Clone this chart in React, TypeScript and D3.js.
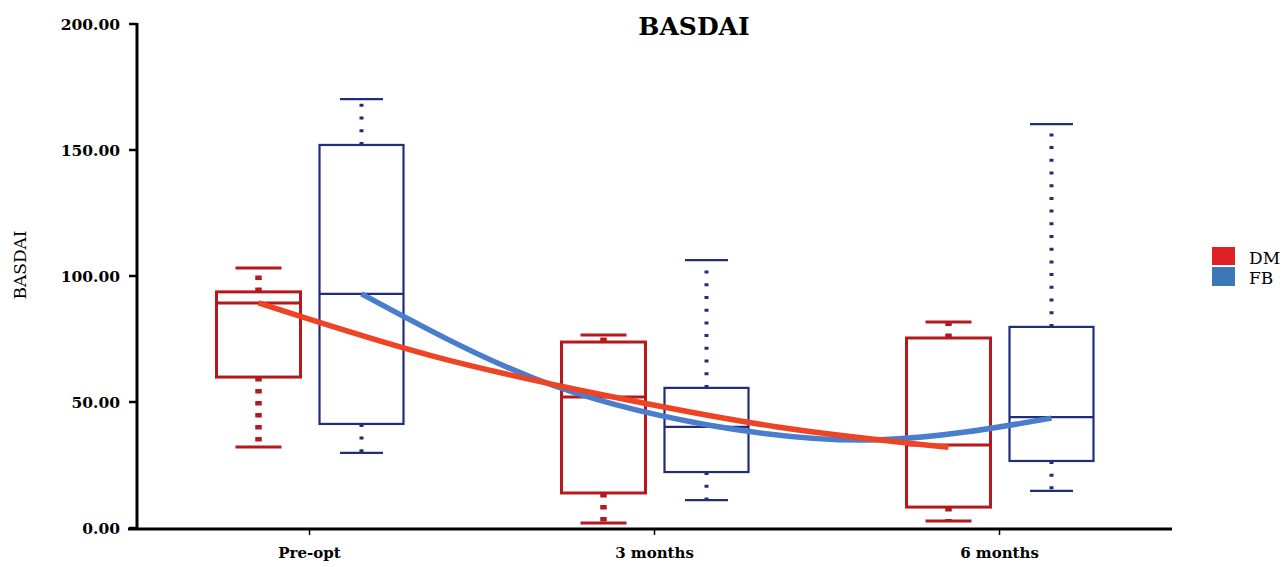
import React from "react";
import * as d3 from "d3";

const categories = ["Pre-opt", "3 months", "6 months"];
const groups = ["DM", "FB"];

const dmMin = [32.1, 2.0, 2.8];
const dmQ1 = [59.9, 13.9, 8.3];
const dmMedian = [89.3, 52.0, 32.9];
const dmQ3 = [93.7, 73.8, 75.4];
const dmMax = [103.2, 76.6, 81.7];

const fbMin = [29.8, 11.1, 14.7];
const fbQ1 = [41.3, 22.2, 26.6];
const fbMedian = [92.9, 40.1, 44.0];
const fbQ3 = [152.0, 55.6, 79.8];
const fbMax = [170.2, 106.3, 160.3];

// trend curves at positions 0, 0.5, 1, 1.5, 2 (in category steps)
const trendPos = [0, 0.5, 1, 1.5, 2];
const dmTrend = [89.3, 68.4, 52.8, 40.2, 32.0];
const fbTrend = [92.9, 59.4, 41.0, 35.0, 43.6];

const yTicks = [0, 50, 100, 150, 200];

const W = 1288;
const H = 567;

const C = {
  dmBox: "#B5191D",
  fbBox: "#1F2D7B",
  dmLine: "#EE4424",
  fbLine: "#4A7DCB",
  dmLegend: "#E02027",
  fbLegend: "#3A78B8",
};

export default function App() {
  const x = d3.scaleBand<string>().domain(categories).range([137, 1172]).padding(0);
  const sub = d3.scalePoint<string>().domain(groups).range([-51, 52]);
  const y = d3.scaleLinear().domain([0, 200]).range([528, 24]);

  const center = (c: string) => (x(c) as number) + x.bandwidth() / 2;

  const series = [
    { key: "DM", min: dmMin, q1: dmQ1, med: dmMedian, q3: dmQ3, max: dmMax, color: C.dmBox, sw: 3, capW: 46, whW: 6.5, dash: "4.5,7.5" },
    { key: "FB", min: fbMin, q1: fbQ1, med: fbMedian, q3: fbQ3, max: fbMax, color: C.fbBox, sw: 2.2, capW: 43, whW: 4, dash: "3,9.7" },
  ];
  const boxW = 84;

  const trendX = (key: string) =>
    d3.scaleLinear().domain([0, 2]).range([center(categories[0]) + (sub(key) as number), center(categories[2]) + (sub(key) as number)]);

  const line = (key: string, vals: number[]) => {
    const tx = trendX(key);
    return d3
      .line<number>()
      .x((_, i) => tx(trendPos[i]))
      .y((v) => y(v))
      .curve(d3.curveNatural)(vals) as string;
  };

  return (
    <svg width={W} height={H} style={{ position: "absolute", left: 0, top: 0, background: "#fff" }}>
      <rect x={0} y={0} width={W} height={H} fill="#fff" />
      {/* title */}
      <text x={694} y={35} textAnchor="middle" fontFamily="DejaVu Serif" fontWeight="bold" fontSize={25}>
        BASDAI
      </text>
      {/* y label */}
      <text
        transform={`translate(26,265) rotate(-90)`}
        textAnchor="middle"
        fontFamily="DejaVu Serif"
        fontSize={17}
      >
        BASDAI
      </text>

      {/* boxes */}
      {series.map((s) =>
        categories.map((c, i) => {
          const cx = center(c) + (sub(s.key) as number);
          return (
            <g key={s.key + c}>
              <line x1={cx} x2={cx} y1={y(s.q3[i])} y2={y(s.max[i])} stroke={s.color} strokeWidth={s.whW} strokeDasharray={s.dash} />
              <line x1={cx} x2={cx} y1={y(s.q1[i])} y2={y(s.min[i])} stroke={s.color} strokeWidth={s.whW} strokeDasharray={s.dash} />
              <line x1={cx - s.capW / 2} x2={cx + s.capW / 2} y1={y(s.max[i])} y2={y(s.max[i])} stroke={s.color} strokeWidth={s.sw} />
              <line x1={cx - s.capW / 2} x2={cx + s.capW / 2} y1={y(s.min[i])} y2={y(s.min[i])} stroke={s.color} strokeWidth={s.sw} />
              <rect
                x={cx - boxW / 2}
                y={y(s.q3[i])}
                width={boxW}
                height={y(s.q1[i]) - y(s.q3[i])}
                fill="none"
                stroke={s.color}
                strokeWidth={s.sw}
              />
              <line x1={cx - boxW / 2} x2={cx + boxW / 2} y1={y(s.med[i])} y2={y(s.med[i])} stroke={s.color} strokeWidth={s.sw} />
            </g>
          );
        })
      )}

      {/* trend lines */}
      <path d={line("FB", fbTrend)} fill="none" stroke={C.fbLine} strokeWidth={5.5} strokeLinecap="butt" />
      <path d={line("DM", dmTrend)} fill="none" stroke={C.dmLine} strokeWidth={5.5} strokeLinecap="butt" />

      {/* axes */}
      <line x1={137} x2={137} y1={23} y2={530} stroke="#000" strokeWidth={3} />
      <line x1={128} x2={1172} y1={529} y2={529} stroke="#000" strokeWidth={3} />
      {yTicks.map((t) => (
        <g key={t}>
          <line x1={129} x2={137} y1={y(t)} y2={y(t)} stroke="#000" strokeWidth={2.5} />
          <text
            x={120}
            y={y(t)}
            dy="0.36em"
            textAnchor="end"
            fontFamily="DejaVu Serif"
            fontWeight="bold"
            fontSize={15.5}
          >
            {t.toFixed(2)}
          </text>
        </g>
      ))}
      {categories.map((c) => (
        <g key={c}>
          <line x1={center(c)} x2={center(c)} y1={529} y2={535} stroke="#000" strokeWidth={1.5} />
          <text x={center(c)} y={558} textAnchor="middle" fontFamily="DejaVu Serif" fontWeight="bold" fontSize={15}>
            {c}
          </text>
        </g>
      ))}

      {/* legend */}
      <rect x={1212} y={247} width={23} height={18} fill={C.dmLegend} />
      <rect x={1212} y={267} width={23} height={19} fill={C.fbLegend} />
      <text x={1249} y={264} fontFamily="DejaVu Serif" fontSize={17}>
        DM
      </text>
      <text x={1249} y={284} fontFamily="DejaVu Serif" fontSize={17}>
        FB
      </text>
    </svg>
  );
}
